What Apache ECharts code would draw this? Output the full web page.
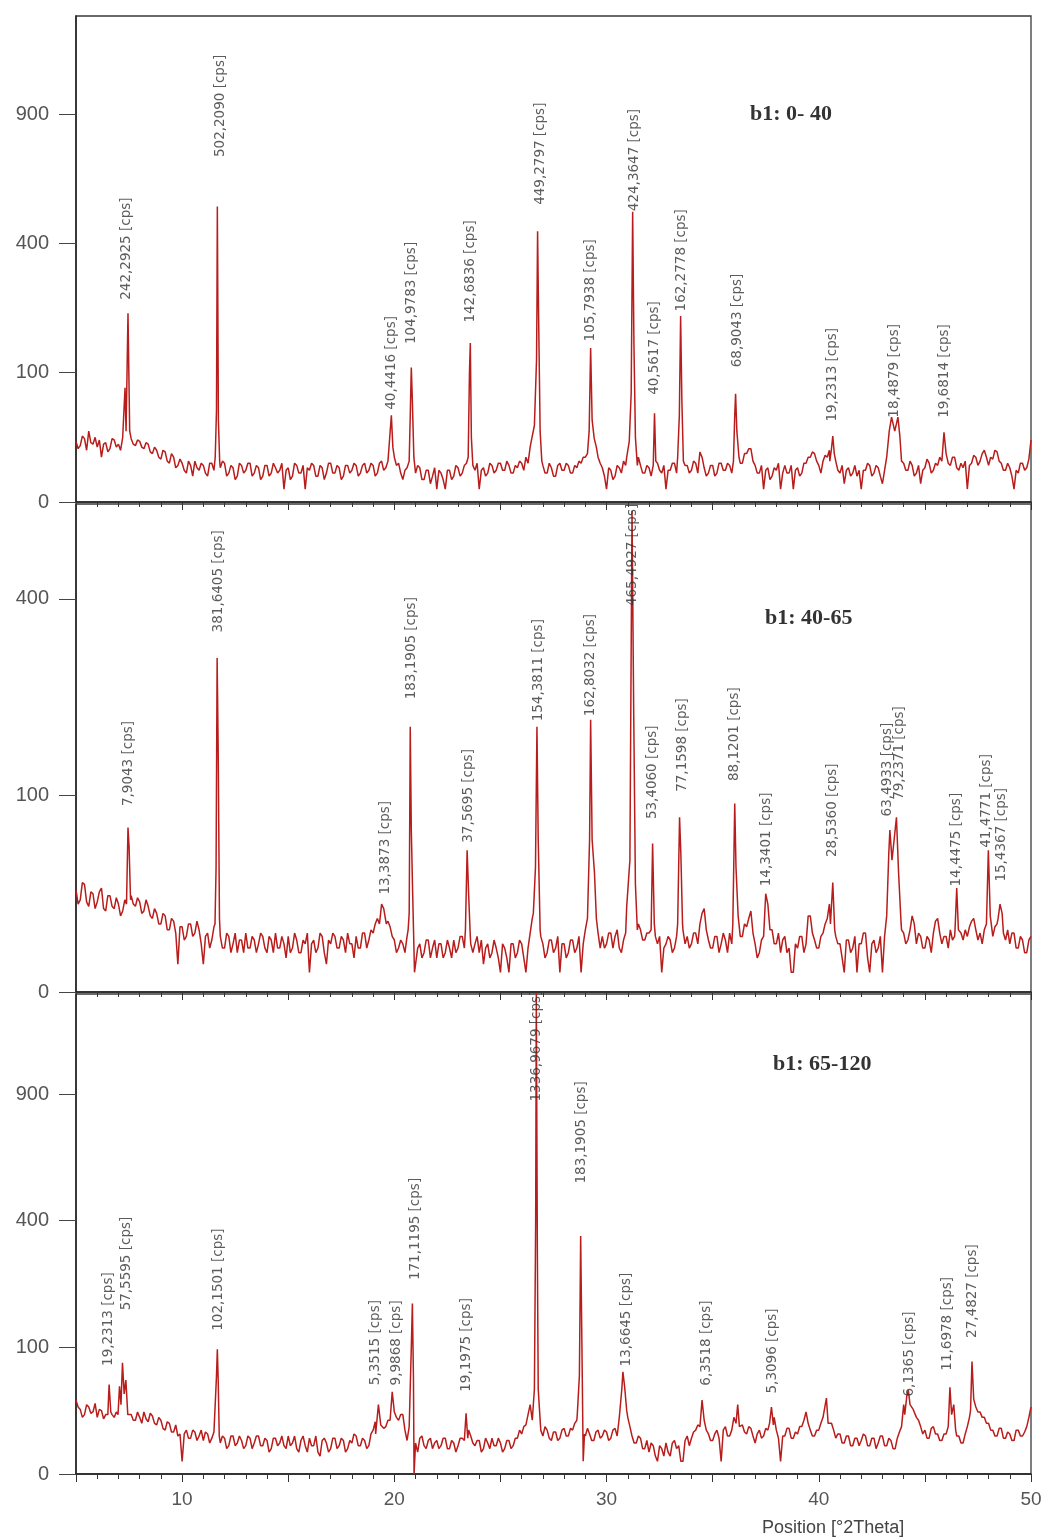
<!DOCTYPE html>
<html><head><meta charset="utf-8">
<script src="https://cdn.jsdelivr.net/npm/echarts@6/dist/echarts.min.js"></script>
<style>html,body{margin:0;padding:0;background:#fff}#c{width:1045px;height:1540px}</style>
</head><body><div id="c"></div>
<script>
// ---------------- DATA (counts) ----------------
// background samples: x = 5.0, 5.1, 5.2 ... 50.0 (2Theta), one row per degree
const X_START = 5, X_STEP = 0.1;
const bg1 = [
 22,17,19,26,24,16,30,21,20,25,
 18,23,12,20,21,15,17,24,23,18,
 20,16,25,22,26,28,24,20,19,23,
 22,18,17,21,20,15,14,18,16,12,
 11,16,15,10,9,14,12,7,8,11,
 9,6,5,10,8,4,10,7,6,9,
 8,5,4,9,9,6,12,8,7,10,
 9,4,5,8,7,3,4,9,8,5,
 6,9,9,4,5,8,7,3,4,8,
 8,4,5,9,7,5,6,9,1,6,
 7,3,4,9,8,5,5,8,1,7,
 6,9,8,4,4,8,7,3,5,9,
 9,5,5,8,7,3,4,8,8,5,
 6,9,8,4,5,8,9,5,6,9,
 8,4,5,9,10,6,7,10,12,14,
 13,8,9,5,3,6,7,10,9,6,
 5,8,7,3,3,6,6,2,4,7,
 1,6,5,3,1,6,6,3,4,8,
 7,4,5,8,9,6,8,5,6,9,
 1,6,7,4,5,9,8,5,6,9,
 9,6,6,10,8,5,5,8,7,10,
 9,6,12,9,18,22,40,30,25,12,
 8,5,5,9,7,4,4,8,9,6,
 6,9,8,5,5,8,7,10,9,12,
 12,16,20,18,18,14,12,9,7,4,
 1,7,6,3,4,8,7,5,10,8,
 20,25,30,26,25,12,8,5,5,8,
 7,4,6,9,9,6,5,8,1,6,
 6,9,9,5,30,20,14,8,8,5,
 6,10,9,5,15,12,7,4,5,8,
 8,4,5,9,9,6,6,9,8,5,
 12,30,10,9,9,14,14,17,17,10,
 8,5,5,8,1,6,7,3,4,7,
 6,9,1,5,8,5,5,8,1,6,
 7,4,5,9,9,12,12,15,14,10,
 8,5,10,13,12,16,20,14,10,6,
 5,8,2,6,7,4,5,8,4,6,
 1,6,6,9,8,4,5,8,7,4,
 2,6,12,20,30,35,35,30,30,14,
 9,6,6,10,8,4,5,8,2,6,
 7,11,9,5,6,9,8,12,12,8,
 14,9,8,12,12,7,6,9,7,10,
 1,8,9,13,12,8,10,14,16,12,
 8,12,11,16,15,10,9,6,6,9,
 7,4,1,6,5,9,9,6,7,11,
 23];
const bg2 = [
 27,20,22,31,30,21,19,26,25,18,
 21,26,28,18,17,24,24,19,18,23,
 20,15,17,22,22,18,24,20,19,23,
 21,16,17,22,19,15,14,18,16,12,
 12,16,15,10,10,14,13,9,2,11,
 11,7,8,12,12,8,9,13,10,6,
 2,8,9,5,7,11,12,9,8,5,
 5,9,8,4,6,9,4,7,7,4,
 9,5,5,8,7,4,6,9,8,5,
 4,8,7,4,9,5,5,8,6,3,
 8,4,5,9,7,4,4,7,6,9,
 1,6,7,4,5,9,8,4,2,7,
 6,9,8,5,5,8,7,4,9,6,
 6,3,8,5,5,9,9,5,7,10,
 9,12,14,17,20,19,16,13,11,8,
 7,4,5,7,6,4,8,6,12,10,
 1,5,6,3,4,7,7,3,5,7,
 3,6,6,3,4,7,5,3,7,4,
 5,8,8,5,12,9,6,4,6,8,
 4,7,2,5,6,3,4,7,5,3,
 1,6,5,3,1,6,6,3,4,7,
 6,3,1,5,9,14,20,20,20,8,
 6,3,4,7,7,4,5,8,1,6,
 6,3,4,7,7,4,5,8,1,6,
 10,14,30,35,35,25,9,5,8,5,
 6,9,9,5,8,10,5,4,7,9,
 20,30,40,35,25,12,10,7,7,9,
 9,6,12,8,6,8,1,5,6,8,
 7,4,5,8,12,10,10,6,8,5,
 6,9,9,6,12,16,18,10,7,5,
 5,8,8,4,6,9,7,4,9,6,
 25,20,20,8,8,12,11,14,17,9,
 6,3,4,7,1,22,22,10,10,6,
 6,9,4,7,8,4,5,1,1,6,
 5,8,8,4,6,15,15,9,7,5,
 5,8,9,12,14,20,31,10,8,6,
 6,3,1,7,7,4,5,8,1,6,
 6,9,9,3,1,6,7,4,5,8,
 1,8,15,50,60,60,37,37,37,10,
 9,6,7,10,15,12,6,9,8,5,
 5,8,7,4,9,13,14,9,6,8,
 8,5,10,7,8,28,10,9,7,10,
 8,11,13,14,10,7,9,6,10,12,
 12,15,8,11,12,20,15,9,7,10,
 6,9,9,5,5,8,7,4,4,7,
 8];
const bg3 = [
 34,28,26,20,22,30,28,23,24,31,
 20,26,25,19,22,27,30,22,20,24,
 40,30,26,30,30,22,22,18,18,24,
 20,16,24,19,17,23,21,16,15,20,
 18,13,12,17,16,11,11,15,9,10,
 1,10,12,8,8,12,11,7,9,12,
 7,11,10,6,8,11,9,5,6,9,
 8,4,5,9,9,5,6,9,7,4,
 5,9,8,4,6,9,9,5,5,8,
 7,3,4,8,8,5,6,9,5,4,
 9,5,6,9,4,3,7,9,5,3,
 8,5,5,9,3,2,7,8,6,3,
 4,8,8,4,5,8,7,3,4,7,
 6,10,9,5,5,8,7,4,5,10,
 12,17,30,24,16,13,14,18,20,30,
 26,20,18,22,22,12,7,14,16,12,
 6,3,8,9,5,4,7,8,4,6,
 7,4,5,8,8,4,4,7,6,3,
 5,8,8,5,14,12,9,6,5,7,
 7,3,4,8,6,4,8,5,5,8,
 6,3,4,7,7,4,5,8,8,12,
 10,14,15,22,30,45,45,20,20,12,
 9,14,12,8,7,11,11,7,8,12,
 13,9,9,13,12,16,18,26,26,10,
 9,13,10,7,7,11,12,8,9,12,
 11,7,8,12,13,9,20,50,50,25,
 20,14,9,6,6,9,8,4,4,7,
 3,6,5,2,1,5,4,2,6,3,
 2,6,7,4,5,1,1,7,9,5,
 8,11,12,15,20,25,25,12,10,7,
 7,10,12,8,1,12,14,9,9,12,
 20,16,28,15,15,11,10,14,13,9,
 6,10,12,8,9,13,12,18,26,20,
 12,8,1,9,9,13,13,8,8,11,
 10,14,14,18,24,16,12,9,9,12,
 12,16,20,25,34,16,16,12,8,10,
 10,6,6,9,9,5,5,8,8,5,
 7,10,9,5,5,8,8,4,6,9,
 9,5,5,8,7,4,4,8,11,14,
 30,35,44,40,28,24,22,18,14,10,
 12,8,8,13,14,10,10,7,7,10,
 10,14,30,26,12,9,9,6,6,10,
 14,20,60,30,30,24,24,20,20,16,
 16,12,12,9,9,13,13,8,8,11,
 10,7,7,12,12,9,9,11,14,20,
 28];

// peak profiles [2Theta, counts]
const peaks1 = [
  [[7.24,24],[7.31,78],[7.36,30],[7.45,213],[7.53,30]],
  [[11.56,12],[11.62,50],[11.66,522],[11.71,40],[11.77,10]],
  [[19.78,10],[19.86,45],[19.93,18],[20.0,12]],
  [[20.7,10],[20.76,55],[20.8,108],[20.85,60],[20.92,12]],
  [[23.48,12],[23.54,100],[23.58,151],[23.63,25],[23.7,8]],
  [[26.45,22],[26.6,35],[26.7,120],[26.75,438],[26.8,200],[26.87,30],[26.95,10]],
  [[29.1,14],[29.18,30],[29.25,142],[29.32,40],[29.42,24],[29.52,18]],
  [[30.95,12],[31.07,22],[31.16,70],[31.23,504],[31.29,150],[31.36,25],[31.45,8]],
  [[32.2,8],[32.26,47],[32.32,10]],
  [[33.35,12],[33.43,45],[33.49,207],[33.55,60],[33.62,10]],
  [[35.98,10],[36.04,45],[36.08,70],[36.14,30],[36.24,12]],
  [[40.52,10],[40.59,16],[40.66,26],[40.73,14]],
  [[43.22,12],[43.32,30],[43.43,43],[43.58,30],[43.73,43],[43.82,26],[43.9,10]],
  [[45.8,10],[45.9,29],[46.0,14]]
];
const peaks2 = [
  [[7.38,20],[7.45,70],[7.5,55],[7.57,22]],
  [[11.55,12],[11.6,40],[11.65,289],[11.7,150],[11.76,14]],
  [[19.3,12],[19.4,20],[19.5,18],[19.62,12]],
  [[20.65,10],[20.7,16],[20.75,182],[20.8,68],[20.86,27],[20.95,1]],
  [[23.35,10],[23.43,52],[23.5,25],[23.58,8]],
  [[26.55,16],[26.65,40],[26.72,182],[26.78,60],[26.87,10]],
  [[29.12,14],[29.2,60],[29.25,192],[29.32,60],[29.43,37],[29.52,14]],
  [[30.95,19],[31.1,45],[31.2,600],[31.28,200],[31.36,30],[31.45,10]],
  [[32.1,10],[32.17,57],[32.25,12]],
  [[33.35,12],[33.44,79],[33.5,50],[33.58,12]],
  [[35.95,12],[36.04,92],[36.1,40],[36.2,15]],
  [[37.4,8],[37.5,25],[37.6,20],[37.7,10]],
  [[40.55,12],[40.66,31],[40.75,10]],
  [[43.2,15],[43.3,50],[43.35,68],[43.45,45],[43.55,60],[43.66,79],[43.76,37],[43.88,12]],
  [[46.42,10],[46.5,28],[46.58,10]],
  [[47.9,12],[47.99,52],[48.08,15]],
  [[48.45,14],[48.54,20],[48.64,16]]
];
const peaks3 = [
  [[6.5,22],[6.56,50],[6.64,24]],
  [[6.98,22],[7.05,48],[7.12,30],[7.19,77],[7.27,40],[7.35,55],[7.44,22]],
  [[11.58,10],[11.62,60],[11.66,97],[11.7,55],[11.75,9]],
  [[19.12,10],[19.25,30],[19.36,15]],
  [[19.8,18],[19.9,42],[20.0,24]],
  [[20.74,14],[20.8,100],[20.85,181],[20.9,60],[20.93,0],[21.0,6]],
  [[23.3,7],[23.38,23],[23.46,8]],
  [[26.5,18],[26.6,45],[26.66,400],[26.69,1445],[26.74,300],[26.78,45],[26.88,16]],
  [[28.62,22],[28.72,60],[28.78,353],[28.84,100],[28.9,1],[28.96,10]],
  [[30.65,20],[30.72,45],[30.77,65],[30.85,48],[30.95,25]],
  [[34.4,14],[34.5,34],[34.6,18]],
  [[36.1,16],[36.18,30],[36.26,14]],
  [[37.68,16],[37.77,28],[37.86,15]],
  [[40.28,20],[40.36,36],[40.44,16]],
  [[44.05,22],[44.15,38],[44.22,44],[44.3,30],[44.45,26],[44.6,20]],
  [[46.1,14],[46.18,47],[46.26,22],[46.36,30],[46.45,12]],
  [[47.15,25],[47.22,79],[47.3,35],[47.4,28]]
];

// peak annotations
const labelX1 = [7.41,11.83,19.9,20.85,23.63,26.93,29.29,31.32,32.26,33.54,36.18,40.66,43.58,45.94];
const labelText1 = ['242,2925 [cps]','502,2090 [cps]','40,4416 [cps]','104,9783 [cps]','142,6836 [cps]','449,2797 [cps]','105,7938 [cps]','424,3647 [cps]','40,5617 [cps]','162,2778 [cps]','68,9043 [cps]','19,2313 [cps]','18,4879 [cps]','19,6814 [cps]'];
const labelX2 = [7.5,11.75,19.62,20.85,23.54,26.84,29.29,31.23,32.17,33.58,36.04,37.55,40.66,43.25,43.82,46.51,47.92,48.63];
const labelText2 = ['7,9043 [cps]','381,6405 [cps]','13,3873 [cps]','183,1905 [cps]','37,5695 [cps]','154,3811 [cps]','162,8032 [cps]','465,4927 [cps]','53,4060 [cps]','77,1598 [cps]','88,1201 [cps]','14,3401 [cps]','28,5360 [cps]','63,4933 [cps]','79,2371 [cps]','14,4475 [cps]','41,4771 [cps]','15,4367 [cps]'];
const labelX3 = [6.56,7.41,11.75,19.15,20.14,21.04,23.44,26.7,28.82,30.94,34.72,37.83,44.29,46.08,47.26];
const labelText3 = ['19,2313 [cps]','57,5595 [cps]','102,1501 [cps]','5,3515 [cps]','9,9868 [cps]','171,1195 [cps]','19,1975 [cps]','1336,9679 [cps]','183,1905 [cps]','13,6645 [cps]','6,3518 [cps]','5,3096 [cps]','6,1365 [cps]','11,6978 [cps]','27,4827 [cps]'];

const yTickCounts = [0, 100, 400, 900];
const xTickLabels = [10, 20, 30, 40, 50];
const panelTitles = ['b1: 0- 40', 'b1: 40-65', 'b1: 65-120'];
const xName = 'Position [°2Theta]';

// ---------------- STYLE / LAYOUT ----------------
const gridTops = [16, 504, 994], gridHeights = [486, 488, 480];
const yMaxSqrt = [37.58, 24.83, 37.9];
const labelGap1 = [13,49,5,23,20,26,6,0,18,4,26,14,-1,14];
const labelGap2 = [21,25,9,27,7,5,3,-96,24,25,22,7,25,13,17,1,2,22];
const labelGap3 = [18,52,18,19,6,23,21,-108,52,5,14,13,-7,16,23];
const titlePos = [[750,114],[765,618],[773,1064]];
const LINE_COLOR = '#b81d1b';

function profile(bg, peaks) {
  const pts = [];
  bg.forEach((c, i) => {
    const x = +(X_START + i * X_STEP).toFixed(2);
    if (!peaks.some(p => x >= p[0][0] - 1e-6 && x <= p[p.length - 1][0] + 1e-6)) pts.push([x, c]);
  });
  peaks.forEach(p => p.forEach(q => pts.push(q)));
  pts.sort((a, b) => a[0] - b[0]);
  return pts.map(([x, c]) => [x, Math.sqrt(Math.max(c, 0))]);
}
function anchor(prof, x, ymax) {
  let m = 0;
  prof.forEach(([px, s]) => { if (Math.abs(px - x) <= 0.25 && s > m) m = s; });
  return Math.min(m, ymax);
}

const profiles = [profile(bg1, peaks1), profile(bg2, peaks2), profile(bg3, peaks3)];
const labelXs = [labelX1, labelX2, labelX3];
const labelTexts = [labelText1, labelText2, labelText3];
const labelGaps = [labelGap1, labelGap2, labelGap3];

const grids = [], xAxes = [], yAxes = [], series = [];
for (let i = 0; i < 3; i++) {
  grids.push({left: 76, right: 14, top: gridTops[i], height: gridHeights[i], show: true,
    borderColor: '#3a3a3a', borderWidth: 1.3, backgroundColor: 'transparent', containLabel: false});
  xAxes.push({gridIndex: i, type: 'value', min: 5, max: 50, interval: 5,
    axisLine: {show: true, onZero: false, lineStyle: {color: '#222', width: 1.5}},
    axisTick: {show: true, length: 8, lineStyle: {color: '#333', width: 1}},
    minorTick: {show: true, splitNumber: 5, length: 5, lineStyle: {color: '#333', width: 1}},
    splitLine: {show: false}, minorSplitLine: {show: false},
    axisLabel: i === 2 ? {show: true, customValues: xTickLabels, margin: 16, fontSize: 19,
      fontFamily: 'Liberation Sans', color: '#555'} : {show: false}});
  const yv = yTickCounts.map(Math.sqrt).filter(v => v <= yMaxSqrt[i]);
  yAxes.push({gridIndex: i, type: 'value', min: 0, max: yMaxSqrt[i],
    axisLine: {show: true, onZero: false, lineStyle: {color: '#222', width: 1.5}},
    axisTick: {show: true, customValues: yv, length: 17, lineStyle: {color: '#444', width: 1}},
    axisLabel: {show: true, customValues: yv, margin: 27, fontSize: 20, fontFamily: 'Liberation Sans', color: '#555',
      formatter: v => String(Math.round(v * v))},
    splitLine: {show: false}});
  series.push({type: 'line', xAxisIndex: i, yAxisIndex: i, data: profiles[i], showSymbol: false, symbol: 'none',
    lineStyle: {color: LINE_COLOR, width: 1.5}, animation: false, z: 3, silent: true});
  series.push({type: 'scatter', xAxisIndex: i, yAxisIndex: i, symbolSize: 1, silent: true, animation: false, z: 5,
    itemStyle: {color: 'rgba(0,0,0,0)'},
    data: labelXs[i].map((x, k) => ({value: [x, anchor(profiles[i], x, yMaxSqrt[i])],
      label: {offset: [labelGaps[i][k], 0]}})),
    label: {show: true, position: [0, 0], rotate: 90, align: 'left', verticalAlign: 'middle',
      fontSize: 13.5, fontFamily: 'DejaVu Sans', color: '#333',
      formatter: p => labelTexts[i][p.dataIndex]}});
}

const chart = echarts.init(document.getElementById('c'), null, {renderer: 'canvas'});
chart.setOption({
  animation: false,
  backgroundColor: '#fff',
  grid: grids, xAxis: xAxes, yAxis: yAxes, series: series,
  graphic: panelTitles.map((t, i) => ({type: 'text', x: titlePos[i][0], y: titlePos[i][1], z: 10,
    style: {text: t, font: 'bold 22px "Liberation Serif"', fill: '#333', verticalAlign: 'middle'}}))
    .concat([{type: 'text', x: 762, y: 1528, z: 10,
      style: {text: xName, font: '18px "Liberation Sans"', fill: '#444', verticalAlign: 'middle'}}])
});
</script></body></html>
